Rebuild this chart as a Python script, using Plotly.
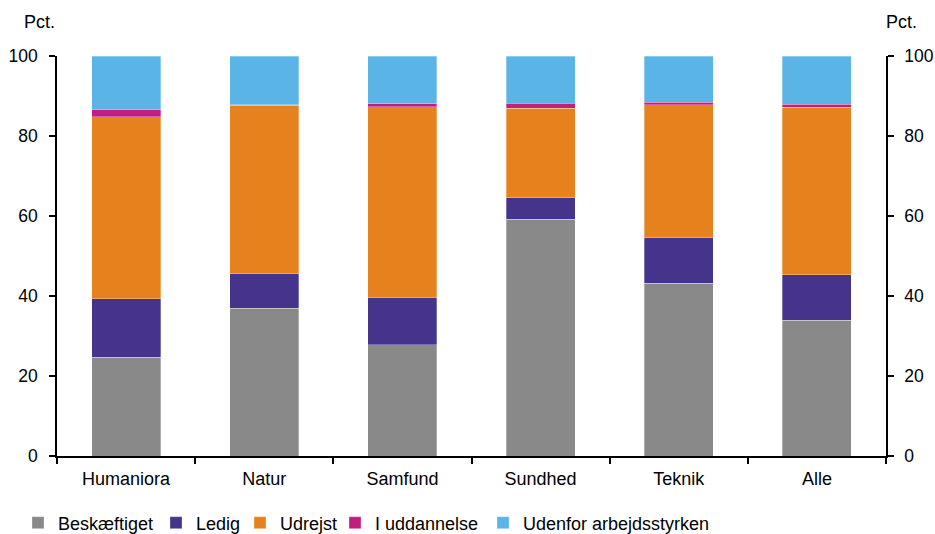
import plotly.graph_objects as go

categories = ["Humaniora", "Natur", "Samfund", "Sundhed", "Teknik", "Alle"]
beskaeftiget = [24.7, 36.9, 27.8, 59.25, 43.2, 33.9]
ledig = [14.6, 8.7, 11.8, 5.35, 11.4, 11.4]
udrejst = [45.5, 42.1, 47.7, 22.3, 33.2, 41.9]
i_uddannelse = [1.8, 0.1, 0.8, 1.3, 0.6, 0.7]
udenfor = [13.4, 12.2, 11.9, 11.8, 11.6, 12.1]
y_ticks = [0, 20, 40, 60, 80, 100]

series = [
    ("Beskæftiget", beskaeftiget, "#898989"),
    ("Ledig", ledig, "#46338C"),
    ("Udrejst", udrejst, "#E6821E"),
    ("I uddannelse", i_uddannelse, "#C21E80"),
    ("Udenfor arbejdsstyrken", udenfor, "#5AB4E6"),
]

W, H = 935, 534
L, R, T, B = 57, 49, 56, 78
pw = W - L - R
ph = H - T - B

def px_x(x):
    return (x - L) / pw

def px_y(y):
    return (H - B - y) / ph

legend_names = ["legend", "legend2", "legend3", "legend4", "legend5"]
legend_text_x = [58, 196, 280, 375, 523]

font = dict(family="Liberation Sans, Arial, sans-serif", size=18, color="black")
tfont = dict(family="Liberation Sans, Arial, sans-serif", size=17.5, color="black")

fig = go.Figure()
for (name, vals, col), lg in zip(series, legend_names):
    fig.add_trace(go.Bar(
        x=categories, y=vals, name=name, legend=lg,
        marker=dict(color=col, line=dict(color="rgba(255,255,255,0.6)", width=0.5)),
    ))

fig.add_trace(go.Scatter(x=categories, y=[None] * len(categories), yaxis="y2",
                         showlegend=False, hoverinfo="skip"))

legends = {}
for lg, tx in zip(legend_names, legend_text_x):
    legends[lg] = dict(orientation="h", x=px_x(tx - 40), xanchor="left",
                       y=px_y(523), yanchor="middle", font=font, itemwidth=30,
                       bgcolor="rgba(0,0,0,0)")

axis_common = dict(showline=True, linecolor="black", linewidth=1.5, ticks="outside",
                   ticklen=6, tickwidth=1.5, tickcolor="black", showgrid=False)

fig.update_layout(
    barmode="stack",
    bargap=0.5,
    width=W, height=H,
    margin=dict(l=L, r=R, t=T, b=B, autoexpand=False),
    plot_bgcolor="white", paper_bgcolor="white",
    font=font,
    xaxis=dict(tickson="boundaries", tickfont=font, ticklabelstandoff=6, **axis_common),
    yaxis=dict(range=[0, 100], tickvals=y_ticks, zeroline=False, tickfont=tfont,
               ticklabelstandoff=8, **axis_common),
    yaxis2=dict(range=[0, 100], tickvals=y_ticks, overlaying="y", side="right",
                zeroline=False, tickfont=tfont, ticklabelstandoff=7, **axis_common),
    showlegend=True,
    annotations=[
        dict(text="Pct.", xref="paper", yref="paper", x=px_x(22), y=px_y(22), xanchor="left",
             yanchor="middle", showarrow=False, font=font),
        dict(text="Pct.", xref="paper", yref="paper", x=px_x(884), y=px_y(22), xanchor="left",
             yanchor="middle", showarrow=False, font=font),
    ],
    **legends,
)

fig.write_html(
    "out.html",
    config={"displayModeBar": False},
    post_script="document.body.style.margin='0';document.body.style.overflow='hidden';",
)
